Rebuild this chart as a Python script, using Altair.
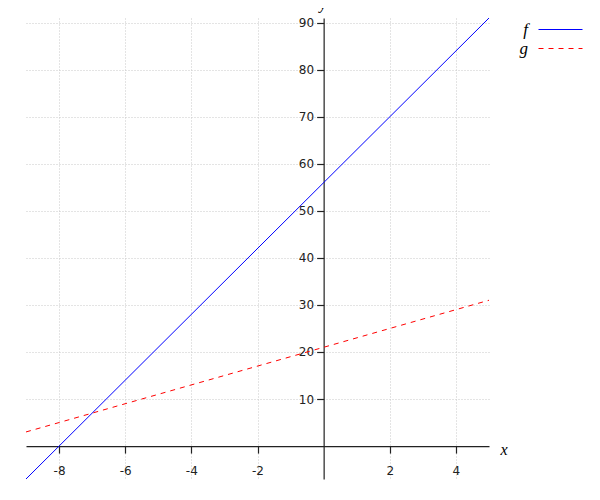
import altair as alt
import pandas as pd

# ---- data ----
x_values = [-9, 5]
f_values = [-7, 91]
g_values = [3, 31]
series_names = ["f", "g"]
series_colors = ["#0000ff", "#ff0000"]
x_ticks = [-8, -6, -4, -2, 2, 4]
y_ticks = [10, 20, 30, 40, 50, 60, 70, 80, 90]
x_domain = [-9, 5]
y_domain = [-7, 91]

W, H = 463, 461

rows = []
for xv, yv in zip(x_values, f_values):
    rows.append({"x": xv, "y": yv, "s": "f"})
for xv, yv in zip(x_values, g_values):
    rows.append({"x": xv, "y": yv, "s": "g"})
df = pd.DataFrame(rows)

# axes cross at the origin: offsets derived from the domains
x_axis_offset = -(0 - y_domain[0]) / (y_domain[1] - y_domain[0]) * H
y_axis_offset = -(0 - x_domain[0]) / (x_domain[1] - x_domain[0]) * W

legend = alt.Legend(
    title=None,
    orient="none",
    legendX=526,
    legendY=3,
    symbolType="M-4,0H4",
    symbolSize=121,
    symbolStrokeWidth=1,
    labelFont="Liberation Serif",
    labelFontStyle="italic",
    labelFontSize=17,
    labelColor="#000000",
    labelAlign="right",
    labelOffset={"expr": "-41"},
    rowPadding=1,
)

label_expr = "'' + datum.value"

chart = alt.Chart(df).mark_line(strokeWidth=1).encode(
    x=alt.X(
        "x:Q",
        scale=alt.Scale(domain=x_domain, nice=False, zero=False),
        axis=alt.Axis(
            values=x_ticks,
            offset={"expr": str(x_axis_offset)},
            title="x",
            titleX=W + 11,
            titleY=8,
            titleAlign="left",
            titleBaseline="alphabetic",
            titleAngle=0,
            labelPadding=12.5,
            labelExpr=label_expr,
        ),
    ),
    y=alt.Y(
        "y:Q",
        scale=alt.Scale(domain=y_domain, nice=False, zero=False),
        axis=alt.Axis(
            values=y_ticks,
            offset={"expr": str(y_axis_offset)},
            title="y",
            titleX=-1,
            titleY=-10,
            titleAlign="center",
            titleBaseline="alphabetic",
            titleAngle=0,
            labelPadding=3,
            labelExpr=label_expr,
        ),
    ),
    color=alt.Color("s:N", scale=alt.Scale(domain=series_names, range=series_colors), legend=legend),
    strokeDash=alt.StrokeDash(
        "s:N",
        scale=alt.Scale(domain=series_names, range=[[2000, 1], [5, 5]]),
        legend=legend,
    ),
).properties(
    width=W,
    height=H,
    autosize=alt.AutoSizeParams(type="none"),
    padding={"left": 18, "top": 10, "right": 100, "bottom": 10},
).configure_view(
    stroke=None
).configure_axis(
    domainColor="#222222",
    domainWidth=1.2,
    tickColor="#222222",
    tickWidth=1.2,
    tickSize=7,
    labelFont="DejaVu Sans",
    labelFontSize=12,
    labelColor="#222222",
    labelFlush=False,
    labelOverlap=False,
    grid=True,
    gridColor="#c8c8c8",
    gridDash=[1, 2],
    gridWidth=1,
    titleFont="Liberation Serif",
    titleFontStyle="italic",
    titleFontWeight="normal",
    titleFontSize=16,
    titleColor="#000000",
)

chart.save("out.html", embed_options={"renderer": "svg", "actions": False})
